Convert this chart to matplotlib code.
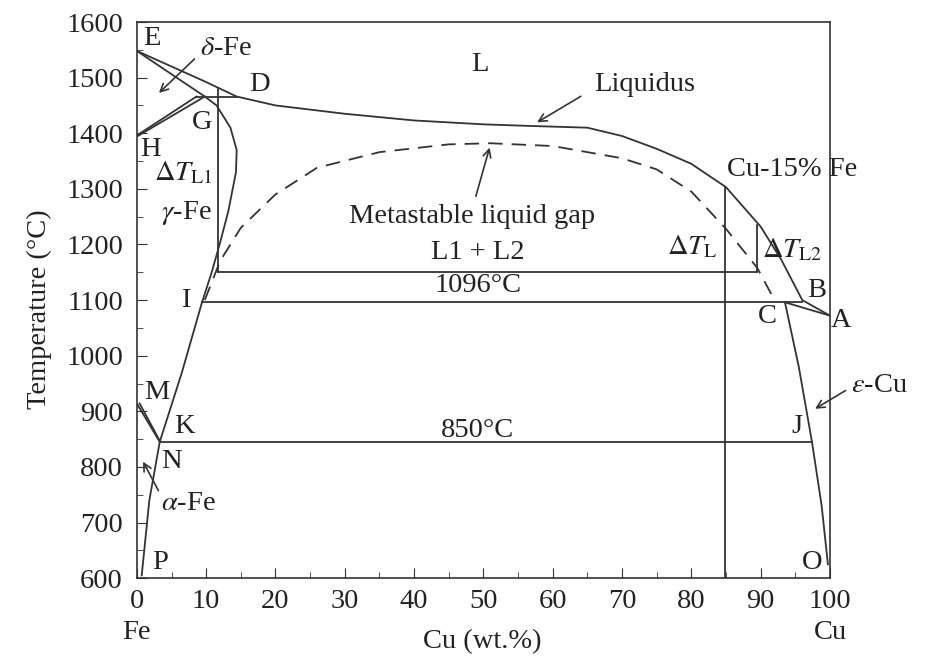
import matplotlib.pyplot as plt
from matplotlib.ticker import MultipleLocator

plt.rcParams['font.family'] = ['Liberation Serif', 'DejaVu Serif']
plt.rcParams['mathtext.fontset'] = 'stix'

# liquidus E -> D -> ... -> B -> A
liq_x = [0, 5, 10, 14.4, 20, 30, 40, 50, 57, 65, 70, 75, 80, 85, 90, 93, 96, 100]
liq_t = [1548, 1520, 1492, 1466, 1450, 1435, 1423, 1416, 1413, 1410, 1395, 1372, 1345, 1303, 1232, 1172, 1100, 1072]

# delta-Fe solidus E -> G
sol_d_x = [0, 9.8]
sol_d_t = [1548, 1466]
# H -> peritectic (double line)
h1_x = [0, 8.6]
h1_t = [1396, 1466]
h2_x = [0, 9.8]
h2_t = [1394, 1466]
# peritectic line
per_x = [8.6, 14.4]
per_t = [1466, 1466]

# gamma-Fe solidus G -> bulge -> I
gam_x = [9.8, 11.5, 13.5, 14.4, 14.3, 13.2, 12.0, 10.8, 9.4]
gam_t = [1466, 1450, 1410, 1370, 1330, 1260, 1203, 1150, 1096]
# I -> K -> P
ikp_x = [9.4, 6.5, 3.3, 1.8, 0.7]
ikp_t = [1096, 970, 845, 740, 605]
# M -> N (double line)
mn1_x = [0, 3.3]
mn1_t = [914, 845]
mn2_x = [0.4, 3.3]
mn2_t = [914, 847]

# Cu side: C -> A, C -> J -> O
ca_x = [93.5, 100]
ca_t = [1096, 1072]
cjo_x = [93.5, 95.5, 97.4, 98.8, 99.7]
cjo_t = [1096, 980, 845, 730, 625]

# isotherms
iso1096_x = [9.4, 96]
iso850_x = [3.3, 97.4]
iso1150_x = [11.7, 89.5]

# delta T markers
dtl1_x = [11.7, 11.7]
dtl1_t = [1480, 1150]
dtl2_x = [89.5, 89.5]
dtl2_t = [1235, 1150]
cu15_x = [84.8, 84.8]
cu15_t = [1304, 600]

# metastable liquid gap (dashed)
gap_x = [9.8, 12, 15, 20, 26, 35, 45, 51, 60, 70, 75, 80, 85, 89.5, 92]
gap_t = [1100, 1170, 1230, 1290, 1338, 1366, 1380, 1382, 1377, 1355, 1335, 1295, 1228, 1158, 1100]

col = '#333333'
tc = '#222222'
fs = 20.5

fig = plt.figure(figsize=(9.31, 6.57), dpi=100)
ax = fig.add_axes([0.147, 0.120, 0.7445, 0.8465])

lw = 1.3
ax.plot(liq_x, liq_t, color=col, lw=lw)
ax.plot(sol_d_x, sol_d_t, color=col, lw=lw)
ax.plot(h1_x, h1_t, color=col, lw=lw)
ax.plot(h2_x, h2_t, color=col, lw=lw)
ax.plot(per_x, per_t, color=col, lw=lw)
ax.plot(gam_x, gam_t, color=col, lw=lw)
ax.plot(ikp_x, ikp_t, color=col, lw=lw)
ax.plot(mn1_x, mn1_t, color=col, lw=lw)
ax.plot(mn2_x, mn2_t, color=col, lw=lw)
ax.plot(ca_x, ca_t, color=col, lw=lw)
ax.plot(cjo_x, cjo_t, color=col, lw=lw)
ax.plot(iso1096_x, [1096, 1096], color=col, lw=lw)
ax.plot(iso850_x, [845, 845], color=col, lw=lw)
ax.plot(iso1150_x, [1150, 1150], color=col, lw=lw)
ax.plot(dtl1_x, dtl1_t, color=col, lw=lw)
ax.plot(dtl2_x, dtl2_t, color=col, lw=lw)
ax.plot(cu15_x, cu15_t, color=col, lw=lw)
ax.plot(gap_x, gap_t, color=col, lw=lw, ls=(0, (8, 5)))

ax.set_xlim(0, 100)
ax.set_ylim(600, 1600)
ax.xaxis.set_major_locator(MultipleLocator(10))
ax.xaxis.set_minor_locator(MultipleLocator(5))
ax.yaxis.set_major_locator(MultipleLocator(100))
ax.yaxis.set_minor_locator(MultipleLocator(50))
ax.tick_params(which='both', direction='in', top=False, right=False,
               colors=col, labelsize=fs, labelcolor=tc)
ax.tick_params(which='major', length=7)
ax.tick_params(which='minor', length=4)
ax.tick_params(axis='y', pad=10)
ax.tick_params(axis='x', pad=8)
for s in ax.spines.values():
    s.set_color(col)
    s.set_linewidth(1.2)

fig.text(39 / 931, 0.530, 'Temperature (°C)', rotation=90, fontsize=fs,
         color=tc, ha='center', va='center')


def lab(x, y, s, **kw):
    ax.text(x, y, s, fontsize=fs, color=tc, ha=kw.pop('ha', 'center'),
            va=kw.pop('va', 'center'), clip_on=False, **kw)


lab(0, 503, 'Fe')
lab(100, 503, 'Cu')
lab(49.9, 486, 'Cu (wt.%)')

lab(2.2, 1571, 'E')
lab(17.7, 1487, 'D')
lab(9.4, 1420, 'G')
lab(1.9, 1370, 'H')
lab(6.7, 1328, r'$\Delta T_{\mathrm{L1}}$')
lab(7.2, 1256, r'$\gamma$-Fe')
lab(7.1, 1100, 'I')
lab(2.9, 933, 'M')
lab(6.9, 872, 'K')
lab(5.0, 809, 'N')
lab(7.4, 735, r'$\alpha$-Fe')
lab(3.3, 629, 'P')
lab(49.5, 1523, 'L')
lab(66, 1487, 'Liquidus', ha='left')
lab(48.3, 1251, 'Metastable liquid gap')
lab(49.2, 1186, 'L1 + L2')
lab(49.2, 1127, '1096°C')
lab(49.2, 866, '850°C')
lab(94.5, 1334, 'Cu-15% Fe')
lab(83.8, 1195, r'$\Delta T_{\mathrm{L}}$', ha='right')
lab(94.5, 1190, r'$\Delta T_{\mathrm{L2}}$')
lab(98.1, 1118, 'B')
lab(91.0, 1070, 'C')
lab(101.6, 1064, 'A')
lab(95.2, 872, 'J')
lab(97.4, 629, 'O')
lab(103.0, 947, r'$\varepsilon$-Cu', ha='left')
lab(12.8, 1553, r'$\delta$-Fe')

arw = dict(arrowstyle='->', color=col, lw=1.2, mutation_scale=14)
ax.annotate('', xy=(2.9, 1469), xytext=(8.6, 1537), arrowprops=arw)
ax.annotate('', xy=(57.4, 1417), xytext=(64.4, 1469), arrowprops=arw)
ax.annotate('', xy=(51, 1379), xytext=(48.8, 1282), arrowprops=arw)
ax.annotate('', xy=(0.7, 814), xytext=(3.3, 753), arrowprops=arw)
ax.annotate('', xy=(97.5, 902), xytext=(102.6, 940), arrowprops=arw,
            annotation_clip=False)

fig.savefig('out.png', dpi=100)
